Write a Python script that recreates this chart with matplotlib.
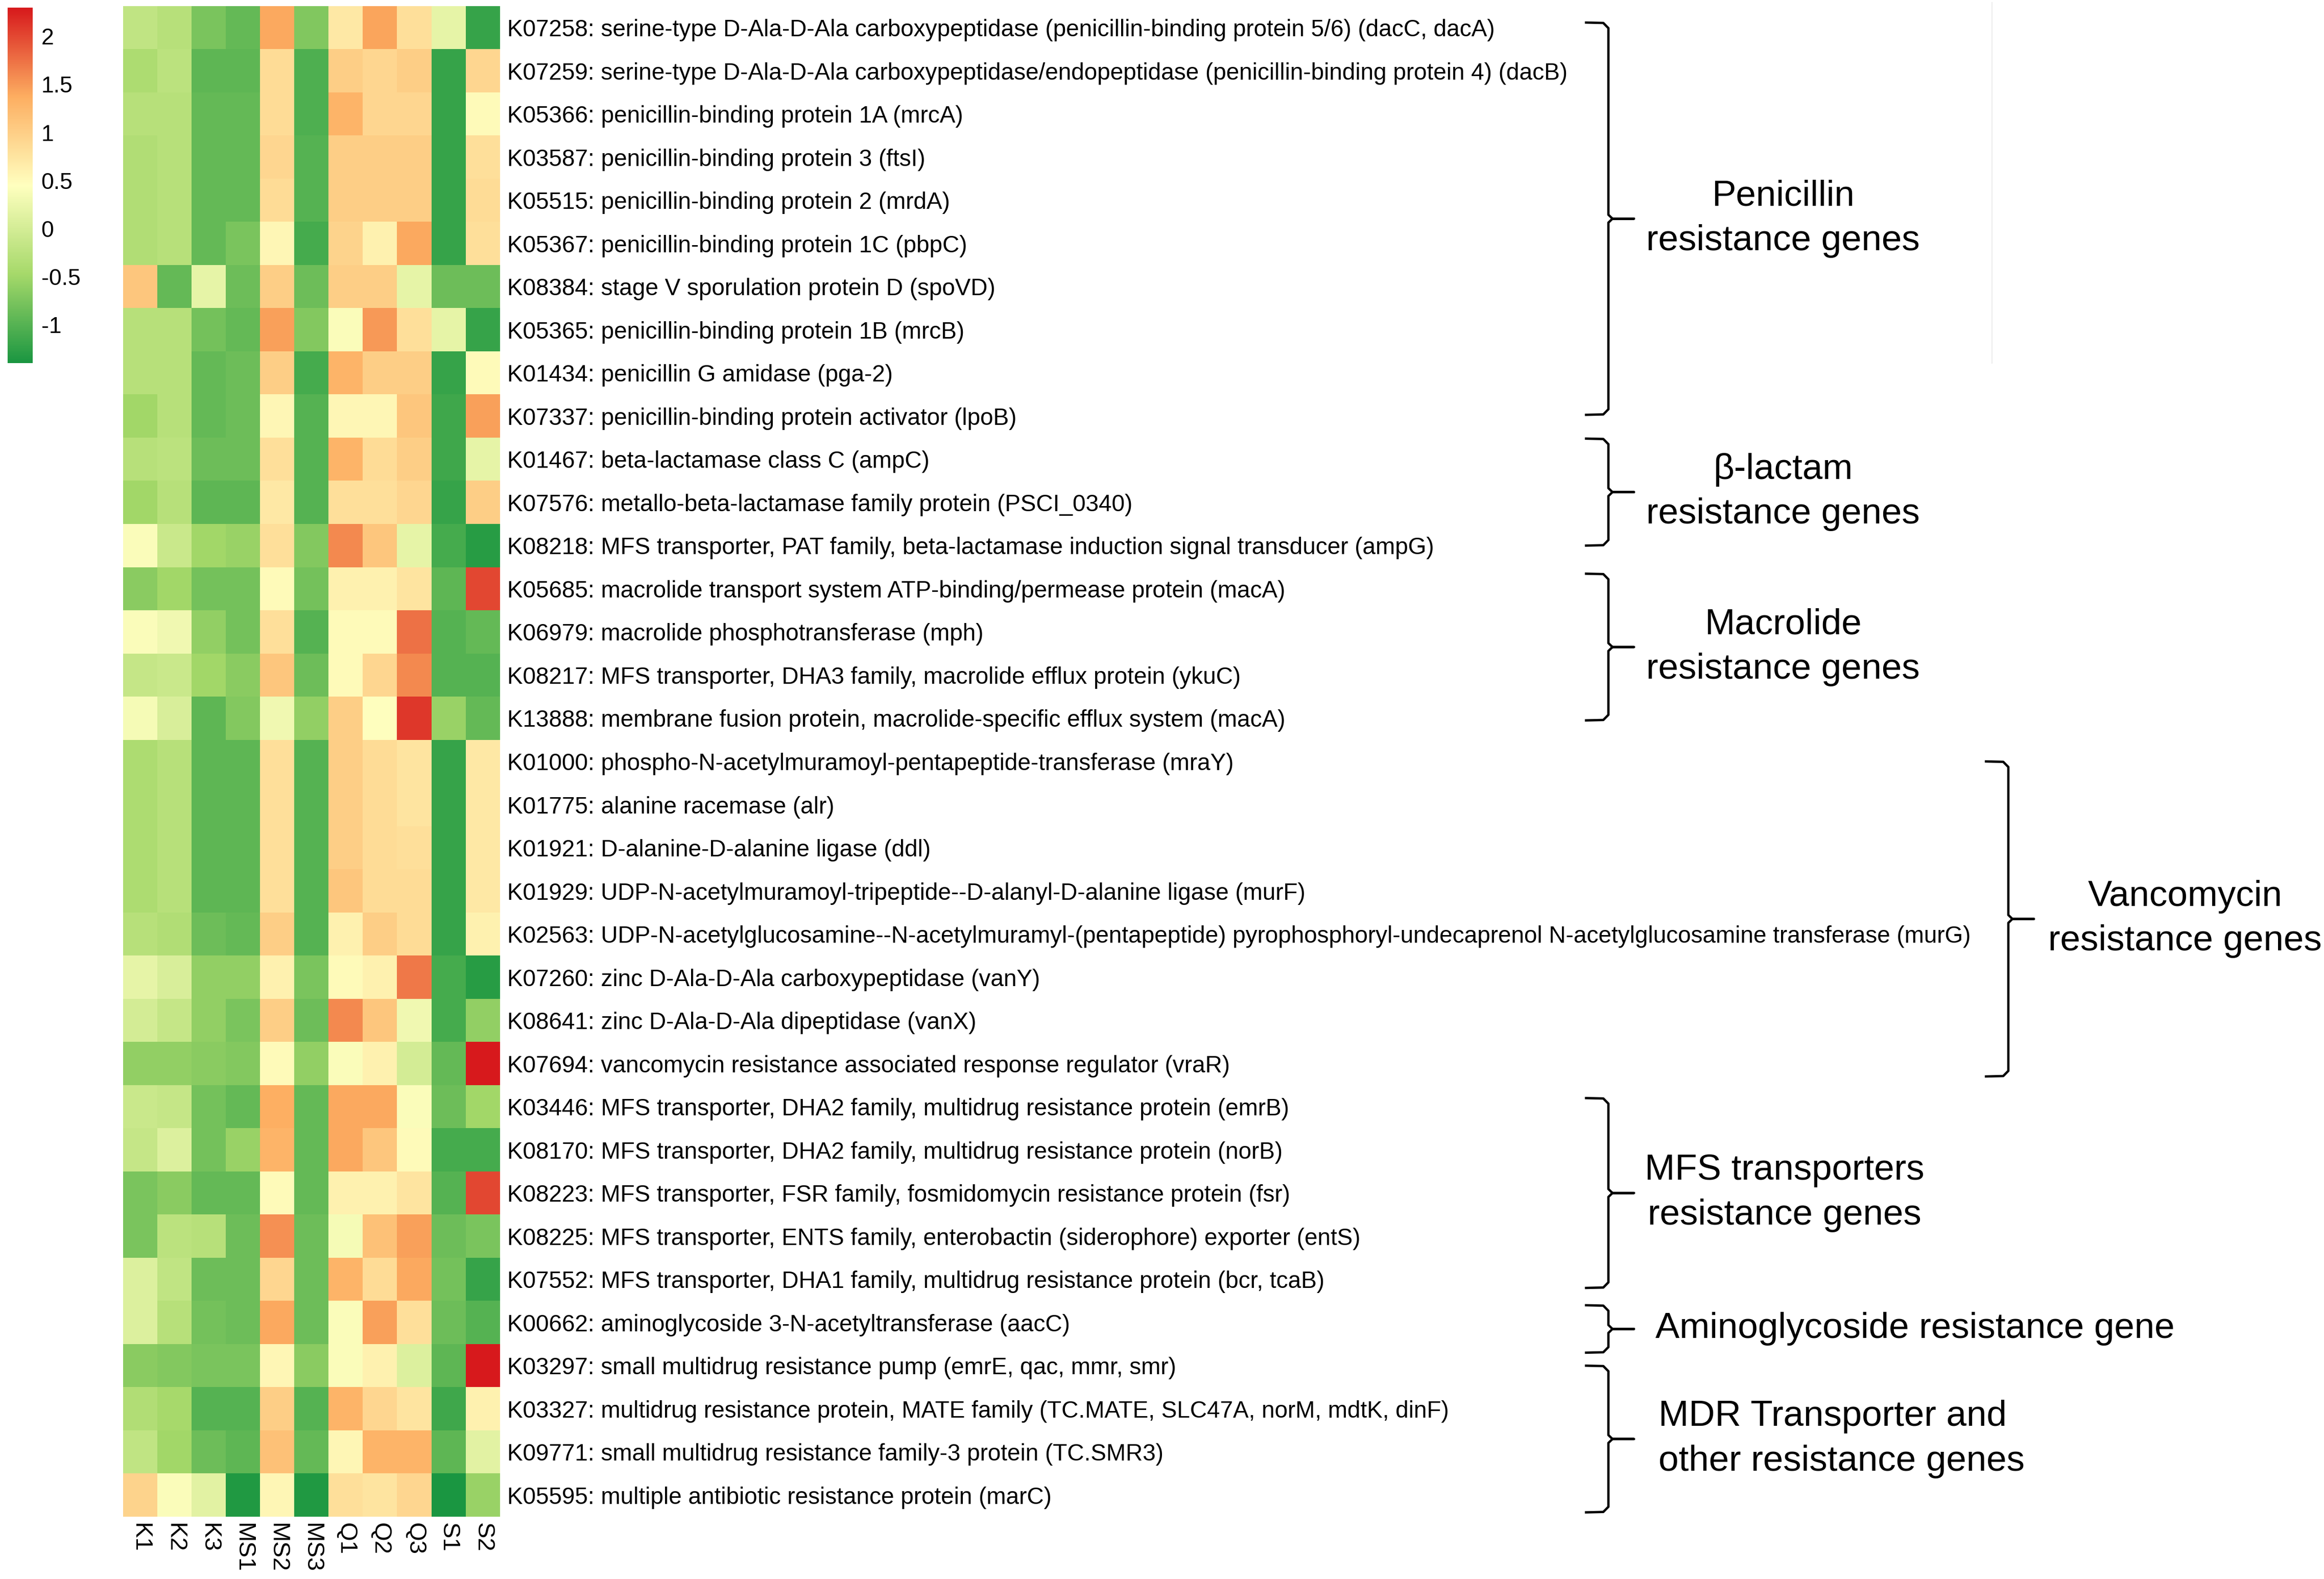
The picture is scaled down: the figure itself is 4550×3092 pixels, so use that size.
import numpy as np
import matplotlib
matplotlib.use("Agg")
import matplotlib.pyplot as plt
from matplotlib.colors import LinearSegmentedColormap
from matplotlib.transforms import blended_transform_factory

plt.rcParams['font.family'] = ['Liberation Sans', 'DejaVu Sans']
plt.rcParams['axes.unicode_minus'] = False

samples = ["K1", "K2", "K3", "MS1", "MS2", "MS3", "Q1", "Q2", "Q3", "S1", "S2"]

genes = [
    "K07258: serine-type D-Ala-D-Ala carboxypeptidase (penicillin-binding protein 5/6) (dacC, dacA)",
    "K07259: serine-type D-Ala-D-Ala carboxypeptidase/endopeptidase (penicillin-binding protein 4) (dacB)",
    "K05366: penicillin-binding protein 1A (mrcA)",
    "K03587: penicillin-binding protein 3 (ftsI)",
    "K05515: penicillin-binding protein 2 (mrdA)",
    "K05367: penicillin-binding protein 1C (pbpC)",
    "K08384: stage V sporulation protein D (spoVD)",
    "K05365: penicillin-binding protein 1B (mrcB)",
    "K01434: penicillin G amidase (pga-2)",
    "K07337: penicillin-binding protein activator (lpoB)",
    "K01467: beta-lactamase class C (ampC)",
    "K07576: metallo-beta-lactamase family protein (PSCI_0340)",
    "K08218: MFS transporter, PAT family, beta-lactamase induction signal transducer (ampG)",
    "K05685: macrolide transport system ATP-binding/permease protein (macA)",
    "K06979: macrolide phosphotransferase (mph)",
    "K08217: MFS transporter, DHA3 family, macrolide efflux protein (ykuC)",
    "K13888: membrane fusion protein, macrolide-specific efflux system (macA)",
    "K01000: phospho-N-acetylmuramoyl-pentapeptide-transferase (mraY)",
    "K01775: alanine racemase (alr)",
    "K01921: D-alanine-D-alanine ligase (ddl)",
    "K01929: UDP-N-acetylmuramoyl-tripeptide--D-alanyl-D-alanine ligase (murF)",
    "K02563: UDP-N-acetylglucosamine--N-acetylmuramyl-(pentapeptide) pyrophosphoryl-undecaprenol N-acetylglucosamine transferase (murG)",
    "K07260: zinc D-Ala-D-Ala carboxypeptidase (vanY)",
    "K08641: zinc D-Ala-D-Ala dipeptidase (vanX)",
    "K07694: vancomycin resistance associated response regulator (vraR)",
    "K03446: MFS transporter, DHA2 family, multidrug resistance protein (emrB)",
    "K08170: MFS transporter, DHA2 family, multidrug resistance protein (norB)",
    "K08223: MFS transporter, FSR family, fosmidomycin resistance protein (fsr)",
    "K08225: MFS transporter, ENTS family, enterobactin (siderophore) exporter (entS)",
    "K07552: MFS transporter, DHA1 family, multidrug resistance protein (bcr, tcaB)",
    "K00662: aminoglycoside 3-N-acetyltransferase (aacC)",
    "K03297: small multidrug resistance pump (emrE, qac, mmr, smr)",
    "K03327: multidrug resistance protein, MATE family (TC.MATE, SLC47A, norM, mdtK, dinF)",
    "K09771: small multidrug resistance family-3 protein (TC.SMR3)",
    "K05595: multiple antibiotic resistance protein (marC)",
]

#         K1     K2     K3     MS1    MS2   MS3    Q1    Q2    Q3    S1     S2
values = [
    [-0.20, -0.30, -0.75, -0.90, 1.40, -0.72, 0.70, 1.42, 0.80,  0.20, -1.20],
    [-0.40, -0.25, -0.95, -0.95, 0.85, -1.05, 1.00, 0.90, 1.00, -1.20,  0.90],
    [-0.30, -0.30, -0.90, -0.90, 0.85, -1.05, 1.30, 0.90, 0.90, -1.20,  0.50],
    [-0.35, -0.30, -0.90, -0.90, 0.90, -1.00, 1.00, 1.00, 1.00, -1.20,  0.80],
    [-0.35, -0.30, -0.90, -0.90, 0.85, -1.00, 1.00, 1.00, 1.00, -1.20,  0.85],
    [-0.35, -0.30, -0.90, -0.75, 0.55, -1.10, 0.95, 0.60, 1.40, -1.20,  0.80],
    [ 1.10, -0.90,  0.20, -0.85, 1.00, -0.85, 1.00, 1.00, 0.20, -0.85, -0.85],
    [-0.30, -0.30, -0.80, -0.90, 1.45, -0.70, 0.40, 1.50, 0.80,  0.20, -1.20],
    [-0.30, -0.30, -0.90, -0.85, 1.00, -1.10, 1.30, 1.00, 1.00, -1.20,  0.50],
    [-0.50, -0.30, -0.90, -0.85, 0.55, -1.00, 0.55, 0.55, 1.10, -1.15,  1.45],
    [-0.30, -0.25, -0.85, -0.85, 0.80, -1.00, 1.30, 0.85, 1.00, -1.15,  0.20],
    [-0.50, -0.30, -0.95, -0.95, 0.70, -1.00, 0.80, 0.80, 0.90, -1.20,  1.00],
    [ 0.40, -0.10, -0.50, -0.55, 0.80, -0.70, 1.60, 1.10, 0.20, -1.10, -1.30],
    [-0.65, -0.50, -0.80, -0.80, 0.50, -0.80, 0.60, 0.60, 0.75, -0.95,  2.00],
    [ 0.40,  0.30, -0.60, -0.80, 0.80, -1.00, 0.50, 0.50, 1.75, -1.00, -0.90],
    [-0.15, -0.10, -0.50, -0.65, 1.10, -0.85, 0.50, 0.90, 1.60, -1.00, -1.00],
    [ 0.35,  0.05, -0.95, -0.70, 0.30, -0.60, 1.00, 0.45, 2.10, -0.55, -0.90],
    [-0.40, -0.30, -0.95, -0.95, 0.80, -1.00, 1.00, 0.85, 0.75, -1.20,  0.70],
    [-0.40, -0.30, -0.95, -0.95, 0.80, -1.00, 1.00, 0.85, 0.75, -1.20,  0.70],
    [-0.40, -0.30, -0.95, -0.95, 0.80, -1.00, 1.00, 0.85, 0.80, -1.20,  0.70],
    [-0.40, -0.30, -0.95, -0.95, 0.80, -1.00, 1.10, 0.85, 0.85, -1.20,  0.70],
    [-0.30, -0.35, -0.85, -0.90, 1.00, -1.00, 0.60, 1.00, 0.85, -1.20,  0.60],
    [ 0.20,  0.05, -0.60, -0.60, 0.60, -0.75, 0.50, 0.60, 1.70, -1.10, -1.30],
    [ 0.00, -0.15, -0.60, -0.75, 1.00, -0.85, 1.60, 1.10, 0.30, -1.10, -0.60],
    [-0.60, -0.60, -0.65, -0.70, 0.50, -0.60, 0.40, 0.60, 0.00, -0.90,  2.35],
    [-0.10, -0.15, -0.80, -0.90, 1.35, -0.90, 1.40, 1.40, 0.40, -0.85, -0.50],
    [-0.15,  0.10, -0.80, -0.55, 1.30, -0.90, 1.40, 1.10, 0.50, -1.10, -1.10],
    [-0.75, -0.65, -0.90, -0.90, 0.50, -0.90, 0.60, 0.60, 0.75, -1.00,  2.00],
    [-0.75, -0.25, -0.30, -0.85, 1.55, -0.85, 0.35, 1.15, 1.45, -0.85, -0.75],
    [ 0.10, -0.20, -0.85, -0.85, 0.90, -0.85, 1.30, 0.85, 1.40, -0.80, -1.20],
    [ 0.10, -0.30, -0.80, -0.85, 1.40, -0.85, 0.40, 1.45, 0.80, -0.85, -1.00],
    [-0.65, -0.70, -0.75, -0.75, 0.55, -0.65, 0.40, 0.60, 0.10, -0.95,  2.35],
    [-0.35, -0.45, -1.00, -1.00, 1.00, -1.00, 1.30, 0.90, 0.75, -1.15,  0.60],
    [-0.20, -0.50, -0.85, -0.95, 1.15, -0.90, 0.55, 1.30, 1.30, -0.95,  0.15],
    [ 0.95,  0.40,  0.15, -1.35, 0.55, -1.35, 0.80, 0.75, 0.90, -1.40, -0.55],
]

cbar_ticks = [-1, -0.5, 0, 0.5, 1, 1.5, 2]
cbar_ticklabels = ["-1", "-0.5", "0", "0.5", "1", "1.5", "2"]

group_names = [
    "Penicillin\nresistance genes",
    "\u03b2-lactam\nresistance genes",
    "Macrolide\nresistance genes",
    "Vancomycin\nresistance genes",
    "MFS transporters\nresistance genes",
    "Aminoglycoside resistance gene",
    "MDR Transporter and\nother resistance genes",
]
group_rows = [(0, 9), (10, 12), (13, 16), (17, 24), (25, 29), (30, 30), (31, 34)]

# ---------------- layout (pixels) ----------------
W, H = 4550, 3092
fig = plt.figure(figsize=(W / 100, H / 100), dpi=100)
fig.patch.set_facecolor("white")

hm_left, hm_right, hm_top, hm_bot = 241, 979, 12, 2970
ax = fig.add_axes([hm_left / W, 1 - hm_bot / H, (hm_right - hm_left) / W, (hm_bot - hm_top) / H])

cmap = LinearSegmentedColormap.from_list(
    "rdylgn5", ["#1A9641", "#A6D96A", "#FFFFBF", "#FDAE61", "#D7191C"], N=256)
vmin, vmax = -1.4, 2.3
data = np.array(values)
im = ax.imshow(data, cmap=cmap, vmin=vmin, vmax=vmax, aspect="auto",
               interpolation="nearest")
ax.set_xlim(-0.5, len(samples) - 0.5)
ax.set_ylim(len(genes) - 0.5, -0.5)
for s in ax.spines.values():
    s.set_visible(False)
ax.set_xticks(range(len(samples)))
ax.set_xticklabels(samples, rotation=-90, fontsize=34)
ax.set_yticks(range(len(genes)))
ax.set_yticklabels(genes, fontsize=33)
ax.yaxis.tick_right()
ax.tick_params(axis="y", length=0, pad=10)
ax.tick_params(axis="x", length=0, pad=9)
for t in ax.get_xticklabels():
    t.set_va("top")
    t.set_ha("center")

# colorbar
cax = fig.add_axes([15 / W, 1 - 711 / H, 49 / W, 696 / H])
cb = fig.colorbar(im, cax=cax, ticks=cbar_ticks)
cb.set_ticklabels(cbar_ticklabels)
cb.outline.set_visible(False)
cax.tick_params(length=0, pad=12, labelsize=32)

# brackets and group labels
tr = blended_transform_factory(fig.transFigure, ax.transData)
bracket_spans = [(-0.12, 8.97), (9.52, 12.0), (12.65, 16.05), (17.0, 24.3),
                 (24.8, 29.2), (29.6, 30.7), (31.0, 34.4)]
bracket_x = [3149, 3149, 3149, 3932, 3149, 3149, 3149]
label_pos = [(3491, "center"), (3491, "center"), (3491, "center"), (4278, "center"),
             (3494, "center"), (3241, "left"), (3247, "left")]
lw = 3.3
for (top, bot), bx, name, (lx, ha) in zip(bracket_spans, bracket_x, group_names, label_pos):
    mid = (top + bot) / 2
    d = 0.13
    xs = [bx - 46, bx - 10, bx, bx, bx + 8, bx + 50, bx + 8, bx, bx, bx - 10, bx - 46]
    ys = [top, top + 0.01, top + d, mid - d * 0.7, mid, mid, mid, mid + d * 0.7, bot - d, bot - 0.01, bot]
    ax.plot(np.array(xs) / W, ys, color="black", lw=lw, transform=tr,
            clip_on=False, solid_joinstyle="round", solid_capstyle="butt")
    ax.text(lx / W, mid, name, transform=tr, fontsize=51, ha=ha, va="center",
            multialignment=ha, linespacing=1.42, clip_on=False)

# faint vertical artefact line at top right
fig.add_artist(plt.Line2D([3900 / W, 3900 / W], [1 - 5 / H, 1 - 711 / H],
                          color="#ececec", lw=1.5))

fig.savefig("out.png", dpi=100, facecolor="white")
